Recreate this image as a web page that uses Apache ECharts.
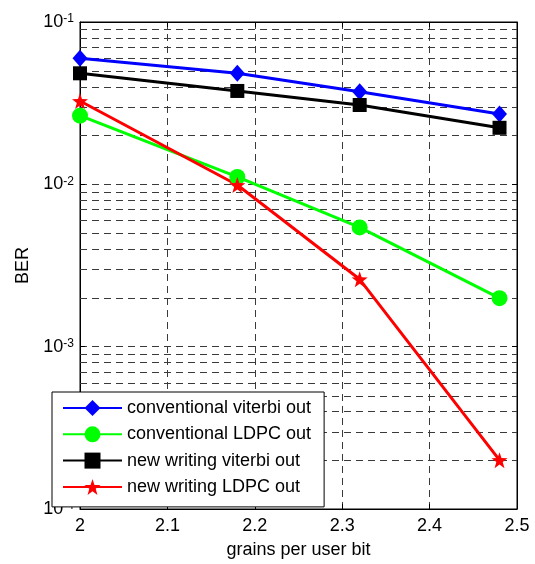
<!DOCTYPE html>
<html>
<head>
<meta charset="utf-8">
<script src="https://cdn.jsdelivr.net/npm/echarts@6/dist/echarts.min.js"></script>
<style>html,body{margin:0;padding:0;background:#fff;}#c{width:535px;height:564px;}</style>
</head>
<body>
<div id="c"></div>
<script>
var xValues = [2.0, 2.18, 2.32, 2.48];
var convViterbi = [0.0597, 0.0483, 0.0372, 0.0271];
var convLDPC = [0.0265, 0.0111, 0.00543, 0.00199];
var newViterbi = [0.0483, 0.0376, 0.0308, 0.0223];
var newLDPC = [0.0326, 0.0099, 0.0026, 0.0002];
var seriesNames = ['conventional viterbi out', 'conventional LDPC out', 'new writing viterbi out', 'new writing LDPC out'];
var xTicks = [2, 2.1, 2.2, 2.3, 2.4, 2.5];
var yDecades = [-4, -3, -2, -1];

var FONT = '"Liberation Sans", Arial, Helvetica, sans-serif';
var starPath = 'path://M10 0 L12.35 6.76 L19.51 6.91 L13.80 11.24 L15.88 18.09 L10 14 L4.12 18.09 L6.20 11.24 L0.49 6.91 L7.65 6.76 Z';

function pairs(ys) { return xValues.map(function (x, i) { return [x, ys[i]]; }); }

// minor log grid positions (2..9 x each decade)
var minorLines = [];
for (var d = 0; d < yDecades.length - 1; d++) {
  for (var m = 2; m <= 9; m++) {
    minorLines.push([xTicks[0], m * Math.pow(10, yDecades[d])]);
  }
}

var gridDash = { color: '#3a3a3a', width: 1, type: [7, 5] };

function mkSeries(name, data, color, symbol, size) {
  return {
    name: name, type: 'line', data: pairs(data),
    symbol: symbol, symbolSize: size, showSymbol: true,
    lineStyle: { color: color, width: 3 },
    itemStyle: { color: color, borderWidth: 0 },
    z: 5, animation: false
  };
}

var series = [
  mkSeries(seriesNames[0], convViterbi, '#0000ff', 'diamond', [15, 17]),
  mkSeries(seriesNames[1], convLDPC, '#00ff00', 'circle', 16),
  mkSeries(seriesNames[2], newViterbi, '#000000', 'rect', 14),
  mkSeries(seriesNames[3], newLDPC, '#ff0000', starPath, 16)
];
series.push({
  type: 'custom', silent: true, z: 1, clip: false,
  data: minorLines, encode: { x: 0, y: 1 },
  renderItem: function (params, api) {
    var v = api.value(1);
    var p1 = api.coord([xTicks[0], v]);
    var p2 = api.coord([xTicks[xTicks.length - 1], v]);
    var y = Math.round(p1[1]) + 0.5;
    return { type: 'line', shape: { x1: p1[0], y1: y, x2: p2[0], y2: y },
      style: { stroke: '#3a3a3a', lineWidth: 1, lineDash: [7, 5] } };
  }
});

var chart = echarts.init(document.getElementById('c'), null, { renderer: 'canvas' });
chart.setOption({
  animation: false,
  backgroundColor: '#fff',
  grid: { left: 80, right: 18, top: 22, bottom: 55, show: true, borderColor: '#000', borderWidth: 1, backgroundColor: 'transparent' },
  legend: {
    data: seriesNames, orient: 'vertical', left: 52, top: 392,
    backgroundColor: '#fff', borderColor: '#000', borderWidth: 1, borderRadius: 0,
    padding: [6, 13, 10, 10], itemGap: 6.3, itemWidth: 59, itemHeight: 20,
    textStyle: { fontFamily: FONT, fontSize: 18, lineHeight: 20, color: '#000' }, z: 20
  },
  xAxis: [{
    type: 'value', min: 2, max: 2.5, interval: 0.1, position: 'bottom',
    name: 'grains per user bit', nameLocation: 'middle', nameGap: 32,
    nameTextStyle: { fontFamily: FONT, fontSize: 18, color: '#000' },
    axisLine: { lineStyle: { color: '#000', width: 1 } },
    axisTick: { inside: true, length: 5, lineStyle: { color: '#000' } },
    axisLabel: { fontFamily: FONT, fontSize: 18, color: '#000', margin: 8,
      formatter: function (v) { var r = Math.round(v * 10) / 10; return xTicks.indexOf(r) >= 0 ? String(r) : ''; } },
    splitLine: { show: true, lineStyle: gridDash }
  }, {
    type: 'value', min: 2, max: 2.5, interval: 0.1, position: 'top',
    axisLine: { lineStyle: { color: '#000', width: 1 } },
    axisTick: { inside: true, length: 5, lineStyle: { color: '#000' } },
    axisLabel: { show: false }, splitLine: { show: false }
  }],
  yAxis: [{
    type: 'log', logBase: 10, min: 1e-4, max: 1e-1, position: 'left',
    name: 'BER', nameLocation: 'middle', nameGap: 47, nameRotate: 90,
    nameTextStyle: { fontFamily: FONT, fontSize: 18, color: '#000' },
    axisLine: { show: true, lineStyle: { color: '#000', width: 1 } },
    axisTick: { show: true, inside: true, length: 5, lineStyle: { color: '#000' } },
    axisLabel: {
      margin: 6, color: '#000',
      formatter: function (v) { var e = Math.round(Math.log10(v)); return '{b|10}{s|' + e + '}'; },
      rich: {
        b: { fontFamily: FONT, fontSize: 18, color: '#000', lineHeight: 18, verticalAlign: 'bottom' },
        s: { fontFamily: FONT, fontSize: 12, color: '#000', lineHeight: 18, verticalAlign: 'top', padding: [0, 0, 12, 0] }
      }
    },
    splitLine: { show: true, lineStyle: gridDash }
  }, {
    type: 'log', logBase: 10, min: 1e-4, max: 1e-1, position: 'right',
    axisLine: { show: true, lineStyle: { color: '#000', width: 1 } },
    axisTick: { show: true, inside: true, length: 5, lineStyle: { color: '#000' } },
    axisLabel: { show: false }, splitLine: { show: false }
  }],
  series: series
});
</script>
</body>
</html>
